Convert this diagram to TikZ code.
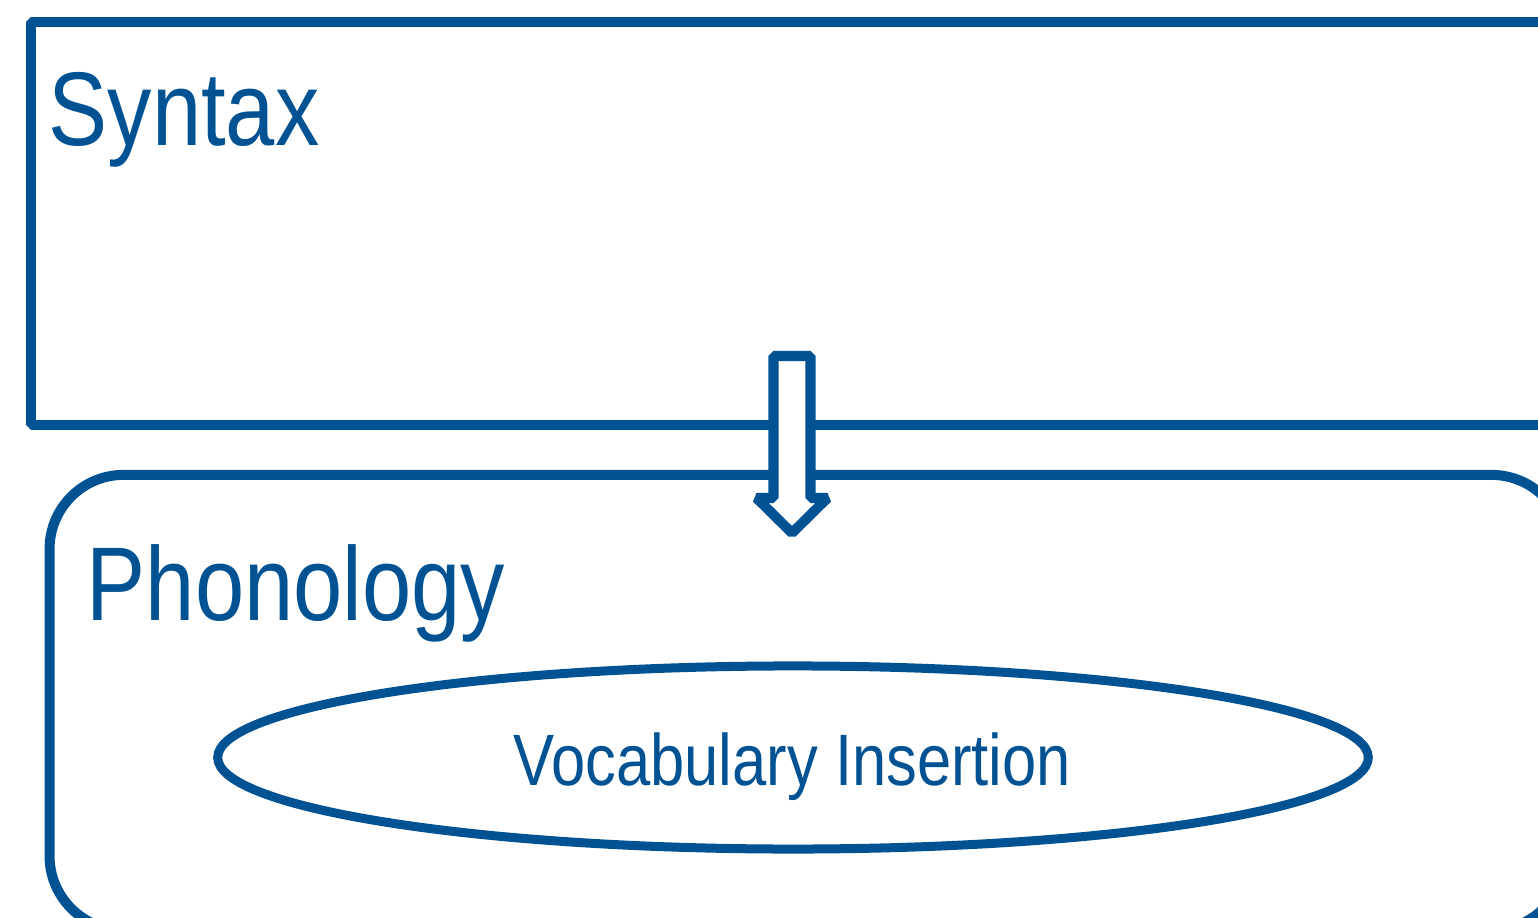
\documentclass[tikz,border=0pt]{standalone}
\usepackage{fontspec}
\setmainfont{Liberation Sans}
\usetikzlibrary{shapes,arrows,positioning}
\definecolor{lingblue}{RGB}{0,82,147}

\begin{document}
\begin{tikzpicture}[x=0.01cm, y=-0.01cm, line join=bevel,
    box/.style={draw=lingblue, line width=2.85pt, inner sep=0pt},
    title/.style={text=lingblue, inner sep=0pt, anchor=base west, font=\fontsize{29.8}{34}\selectfont}]
    \useasboundingbox (0,0) rectangle (1538,918);
    \clip (0,0) rectangle (1538,918);

    % Syntax module
    \node[box, rectangle, minimum width=15.69cm, minimum height=4.025cm] (syntax) at (815.5,223.25) {};
    \node[title] (syntaxlabel) at (48,145) {\scalebox{0.845}[1]{Syntax}};

    % Phonology module
    \node[box, rectangle, rounded corners=0.74cm, minimum width=15.15cm, minimum height=4.55cm] (phonology) at (807.5,702.5) {};
    \node[title] (phonlabel) at (86,620) {\scalebox{0.845}[1]{Phonology}};

    % Vocabulary Insertion
    \node[box, ellipse, line width=2.56pt, minimum width=11.5cm, minimum height=1.83cm] (vocab) at (793,757.5) {};
    \node[title, font=\fontsize{20.7}{24}\selectfont] (vocablabel) at (513,785) {\scalebox{0.845}[1]{Vocabulary Insertion}};

    % Arrow
    \coordinate (flowtop) at (792,356);
    \draw[box, fill=white] (flowtop) ++(-18.5,0) -- ++(37,0) -- ++(0,142) -- ++(17,0)
        -- (792,533) -- (756.5,498) -- (773.5,498) -- cycle;
\end{tikzpicture}
\end{document}
